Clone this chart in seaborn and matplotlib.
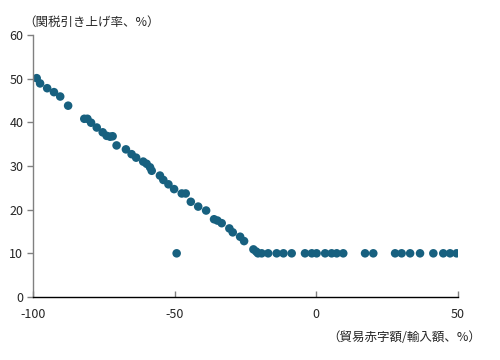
import pandas as pd
import seaborn as sns
import matplotlib.pyplot as plt

# trade deficit / imports (%) vs tariff increase (%)
deficit = [-98.7, -97.5, -95, -92.6, -90.4, -87.6,
           -81.9, -80.8, -79.5, -77.5, -75.4, -74, -72.8, -71.9,
           -70.5, -67.2, -65.2, -63.6, -61.1, -59.9, -58.7, -58.1,
           -55.2, -54, -52.2, -50.2, -47.5, -46.1, -44.3, -41.7,
           -38.9, -36.1, -34.9, -33.4, -30.7, -29.5, -26.9, -25.5,
           -22.2, -21.2, -49.3,
           -20.6, -19.3, -17, -14, -11.6, -8.7, -4, -1.6, 0.1, 3.1, 5.4, 7.2, 9.5,
           17.2, 20.1, 27.8, 30.1, 33.1, 36.6, 41.3, 44.8, 47.2, 49.5]
tariff = [50.1, 48.9, 47.8, 46.9, 45.9, 43.8,
          40.8, 40.8, 39.9, 38.8, 37.7, 36.9, 36.7, 36.8,
          34.7, 33.8, 32.7, 31.9, 31.0, 30.5, 29.7, 28.9,
          27.8, 26.8, 25.8, 24.7, 23.7, 23.7, 21.8, 20.7,
          19.8, 17.8, 17.5, 16.9, 15.7, 14.8, 13.8, 12.8,
          10.9, 10.4, 10,
          10, 10, 10, 10, 10, 10, 10, 10, 10, 10, 10, 10, 10,
          10, 10, 10, 10, 10, 10, 10, 10, 10, 10]

x_ticks = [-100, -50, 0, 50]
y_ticks = [0, 10, 20, 30, 40, 50, 60]

df = pd.DataFrame({"deficit": deficit, "tariff": tariff})

sns.set_style("white")
plt.rcParams["font.family"] = ["Noto Sans CJK JP", "DejaVu Sans"]
plt.rcParams["axes.unicode_minus"] = False

fig = plt.figure(figsize=(5, 3.6), dpi=100)
ax = fig.add_axes([0.066, 0.175, 0.85, 0.728])

sns.scatterplot(data=df, x="deficit", y="tariff", ax=ax, color="#17607f",
                s=38, edgecolor="none", linewidth=0)

ax.set_xlim(-100, 50)
ax.set_ylim(0, 60)
ax.set_xticks(x_ticks)
ax.set_yticks(y_ticks)
ax.set_xlabel("")
ax.set_ylabel("")

for side in ["top", "right"]:
    ax.spines[side].set_visible(False)
ax.spines["left"].set_color("#808080")
ax.spines["left"].set_linewidth(1)
ax.spines["bottom"].set_color("black")
ax.spines["bottom"].set_linewidth(1)

ax.tick_params(axis="y", direction="out", length=4, width=1, color="#808080",
               labelsize=9, pad=3, left=True)
ax.tick_params(axis="x", direction="in", length=4, width=1, color="#808080",
               labelsize=9, pad=8, bottom=True)

fig.text(0.046, 0.938, "（関税引き上げ率、%）", fontsize=9, ha="left", va="center")
fig.text(0.962, 0.062, "（貿易赤字額/輸入額、%）", fontsize=9, ha="right", va="center")

fig.savefig("out.png", dpi=100)
